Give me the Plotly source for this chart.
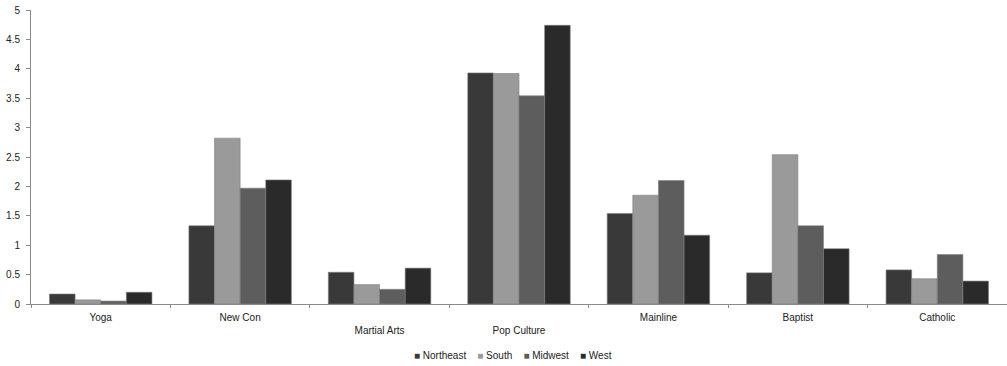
import plotly.graph_objects as go

categories = ["Yoga", "New Con", "Martial Arts", "Pop Culture", "Mainline", "Baptist", "Catholic"]
tick_labels = ["Yoga", "New Con", "<br>Martial Arts", "<br>Pop Culture", "Mainline", "Baptist", "Catholic"]
northeast = [0.17, 1.33, 0.54, 3.93, 1.54, 0.53, 0.58]
south = [0.07, 2.82, 0.33, 3.92, 1.85, 2.54, 0.43]
midwest = [0.05, 1.97, 0.25, 3.54, 2.10, 1.33, 0.84]
west = [0.20, 2.11, 0.61, 4.74, 1.17, 0.94, 0.39]
y_ticks = [0, 0.5, 1, 1.5, 2, 2.5, 3, 3.5, 4, 4.5, 5]

series = [
    ("Northeast", northeast, "#393939"),
    ("South", south, "#9a9a9a"),
    ("Midwest", midwest, "#5d5d5d"),
    ("West", west, "#2a2a2a"),
]

FAM = "Liberation Sans, Arial, sans-serif"
TXT = "#222222"

fig = go.Figure()
for name, vals, col in series:
    fig.add_trace(go.Bar(
        name=name, x=categories, y=vals,
        marker=dict(color=col, line=dict(color="#808080", width=0.6)),
        showlegend=False,
    ))

# compact legend as text (swatch glyph + name)
legend_text = "&nbsp;&nbsp;&nbsp;&nbsp;".join(
    f"<span style='color:{col}'>■</span> {name}" for name, _, col in series
)
fig.add_annotation(
    text=legend_text, xref="paper", yref="paper", x=0.494, y=-0.175,
    xanchor="center", yanchor="middle", showarrow=False,
    font=dict(family=FAM, size=10, color=TXT),
)

fig.update_layout(
    width=1007, height=366,
    margin=dict(l=31, r=0, t=10, b=62),
    paper_bgcolor="white", plot_bgcolor="white",
    barmode="group", bargap=0.265, bargroupgap=0,
    font=dict(family=FAM, size=10, color=TXT),
    xaxis=dict(
        type="category", tickvals=categories, ticktext=tick_labels,
        showline=True, linecolor="#8a8a8a", linewidth=1,
        ticks="outside", ticklen=3, tickcolor="#8a8a8a", tickson="boundaries",
        ticklabelstandoff=4,
        showgrid=False, zeroline=False, automargin=False,
        tickfont=dict(family=FAM, size=10, color=TXT),
    ),
    yaxis=dict(
        range=[0, 5], tickvals=y_ticks, ticktext=[("%g" % v) for v in y_ticks],
        showline=True, linecolor="#8a8a8a", linewidth=1,
        ticks="outside", ticklen=4, tickcolor="#8a8a8a",
        ticklabelstandoff=4,
        showgrid=False, zeroline=False, automargin=False,
        tickfont=dict(family=FAM, size=10, color=TXT),
    ),
)

fig.write_html(
    "out.html",
    config={"displayModeBar": False},
    post_script="document.body.style.margin='0';document.body.style.overflow='hidden';",
)
